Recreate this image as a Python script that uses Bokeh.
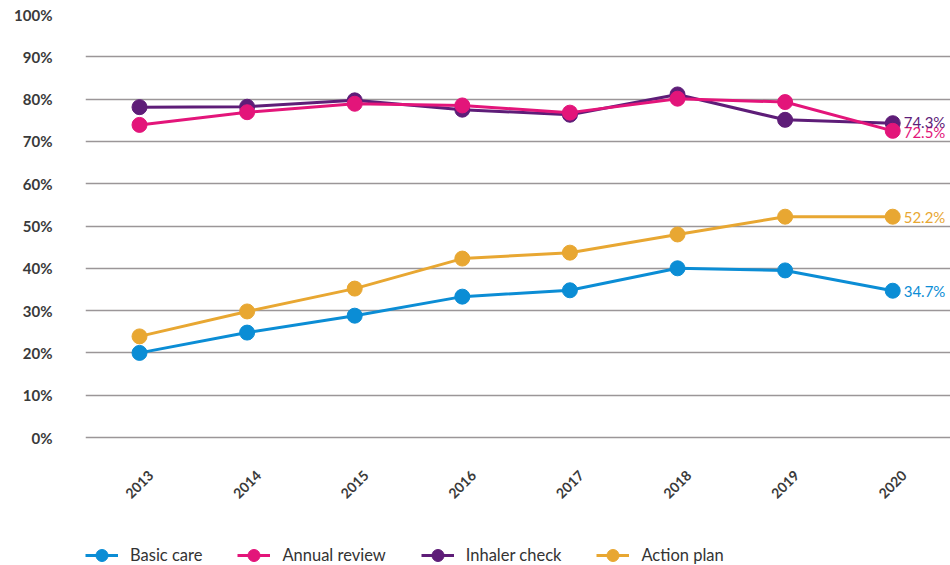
from bokeh.plotting import figure
from bokeh.models import ColumnDataSource, FixedTicker, Legend, LegendItem, CustomJSTickFormatter
from bokeh.core.properties import value
from bokeh.embed import file_html
from bokeh.resources import INLINE
import math

years = [2013, 2014, 2015, 2016, 2017, 2018, 2019, 2020]
year_labels = ["2013", "2014", "2015", "2016", "2017", "2018", "2019", "2020"]
basic_care = [20.0, 24.8, 28.8, 33.3, 34.8, 40.0, 39.5, 34.7]
annual_review = [73.9, 76.9, 78.9, 78.5, 76.8, 80.1, 79.3, 72.5]
inhaler_check = [78.1, 78.2, 79.7, 77.5, 76.3, 81.1, 75.1, 74.3]
action_plan = [23.9, 29.8, 35.2, 42.3, 43.7, 48.0, 52.2, 52.2]
series_names = ["Basic care", "Annual review", "Inhaler check", "Action plan"]
colors = ["#0b8dd5", "#e3157a", "#5e1d78", "#e8a732"]
y_ticks = [0, 10, 20, 30, 40, 50, 60, 70, 80, 90, 100]

FONT = "Lato"
TEXT_COLOR = "#3a3a3a"

# the frame runs to the bottom of the page so that the year labels and the
# legend (which sit below 0%) are drawn inside it
p = figure(width=950, height=565, output_backend="svg", toolbar_location=None,
           x_range=(2012.498, 2020.537), y_range=(-30.26, 100),
           min_border_left=85, min_border_right=0, min_border_top=14,
           min_border_bottom=0)
p.outline_line_color = None
p.background_fill_color = "white"
p.border_fill_color = "white"

p.xgrid.grid_line_color = None
p.ygrid.grid_line_color = "#9b9698"
p.ygrid.grid_line_width = 1.6
p.ygrid.ticker = FixedTicker(ticks=y_ticks)

p.yaxis.ticker = FixedTicker(ticks=y_ticks)
p.yaxis.formatter = CustomJSTickFormatter(code="return tick + '%';")
p.yaxis.axis_line_color = None
p.yaxis.major_tick_line_color = None
p.yaxis.minor_tick_line_color = None
p.yaxis.major_tick_out = 0
p.yaxis.major_label_standoff = 33
p.yaxis.major_label_text_font = FONT
p.yaxis.major_label_text_font_style = "bold"
p.yaxis.major_label_text_font_size = "15px"
p.yaxis.major_label_text_color = TEXT_COLOR

p.xaxis.visible = False

# year labels, rotated, centred under each year
p.text(x=years, y=[0] * len(years), text=year_labels, y_offset=47, angle=math.pi / 4,
       text_font=value(FONT), text_font_style="bold", text_font_size="14px",
       text_color=TEXT_COLOR, text_align="center", text_baseline="middle")

all_series = [basic_care, annual_review, inhaler_check, action_plan]
items = []
# draw order: action plan, basic care, inhaler, annual review
for idx in [3, 0, 2, 1]:
    vals = all_series[idx]
    src = ColumnDataSource(dict(x=years, y=vals))
    ln = p.line("x", "y", source=src, line_color=colors[idx], line_width=3)
    sc = p.scatter("x", "y", source=src, size=15, fill_color=colors[idx], line_color=colors[idx])
    items.append((idx, LegendItem(label=series_names[idx], renderers=[ln, sc])))

items.sort(key=lambda t: t[0])

# end labels
end_src = ColumnDataSource(dict(
    x=[years[-1]] * 4,
    y=[s[-1] for s in all_series],
    txt=["%.1f%%" % s[-1] for s in all_series],
    c=colors,
    dy=[0, 1, -1, 0],
))
p.text("x", "y", text="txt", source=end_src, text_color="c", x_offset=11,
       y_offset="dy",
       text_font=value(FONT), text_font_size="15px", text_align="left", text_baseline="middle")

legend = Legend(items=[it for _, it in items], orientation="horizontal",
                label_text_font=FONT, label_text_font_size="16.5px", label_text_color="#333333",
                glyph_width=33, glyph_height=30, spacing=35, label_standoff=12,
                border_line_color=None, background_fill_alpha=0,
                padding=0, margin=0, location=(0, -5))
p.add_layout(legend)

open("out.html", "w").write(file_html(p, INLINE))
